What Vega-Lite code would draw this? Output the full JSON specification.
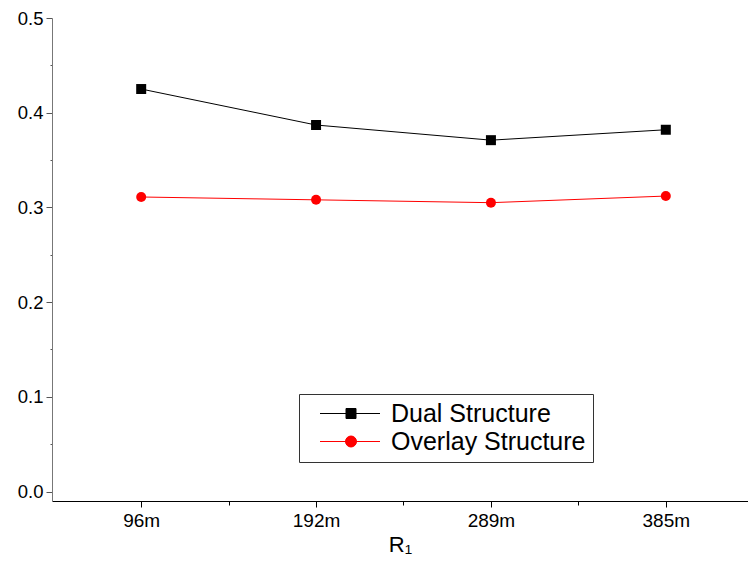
{
  "$schema": "https://vega.github.io/schema/vega-lite/v6.json",
  "width": 696,
  "height": 483,
  "autosize": {"type": "none"},
  "padding": {"left": 52, "top": 18, "right": 0, "bottom": 63},
  "config": {
    "view": {"stroke": null},
    "font": "Liberation Sans",
    "axis": {"grid": false, "labelColor": "black", "titleColor": "black", "labelFont": "Liberation Sans", "titleFont": "Liberation Sans"}
  },
  "data": {
    "values": [
      {"r": 1, "series": "Dual Structure", "value": 0.425},
      {"r": 2, "series": "Dual Structure", "value": 0.387},
      {"r": 3, "series": "Dual Structure", "value": 0.371},
      {"r": 4, "series": "Dual Structure", "value": 0.382},
      {"r": 1, "series": "Overlay Structure", "value": 0.311},
      {"r": 2, "series": "Overlay Structure", "value": 0.308},
      {"r": 3, "series": "Overlay Structure", "value": 0.305},
      {"r": 4, "series": "Overlay Structure", "value": 0.312}
    ]
  },
  "encoding": {
    "x": {
      "field": "r",
      "type": "quantitative",
      "scale": {"domain": [0.49, 4.47], "nice": false, "zero": false},
      "axis": {
        "values": [1, 1.5, 2, 2.5, 3, 3.5, 4],
        "labelExpr": "datum.value == 1 ? '96m' : datum.value == 2 ? '192m' : datum.value == 3 ? '289m' : datum.value == 4 ? '385m' : ''",
        "labelFontSize": 19,
        "labelOverlap": false,
        "labelFlush": false,
        "labelPadding": 4,
        "tickSize": {"condition": {"test": "datum.value % 1 != 0", "value": 4}, "value": 6},
        "domainColor": "black",
        "tickColor": "black",
        "title": "R₁",
        "titleFontSize": 22,
        "titleFontWeight": "normal",
        "titlePadding": 4
      }
    },
    "y": {
      "field": "value",
      "type": "quantitative",
      "scale": {"domain": [-0.01, 0.5], "nice": false, "zero": false},
      "axis": {
        "values": [0, 0.05, 0.1, 0.15, 0.2, 0.25, 0.3, 0.35, 0.4, 0.45, 0.5],
        "labelExpr": "round(datum.value*100) % 10 == 0 ? format(datum.value, '.1f') : ''",
        "labelFontSize": 18.5,
        "labelOverlap": false,
        "labelFlush": false,
        "labelPadding": 3,
        "tickSize": {"condition": {"test": "round(datum.value*100) % 10 != 0", "value": 2}, "value": 6},
        "domainColor": "#777777",
        "tickColor": "#555555",
        "title": null
      }
    },
    "color": {
      "field": "series",
      "type": "nominal",
      "scale": {"domain": ["Dual Structure", "Overlay Structure"], "range": ["black", "red"]},
      "legend": {
        "orient": "none",
        "legendX": 247,
        "legendY": 376,
        "title": null,
        "strokeColor": "#333333",
        "fillColor": "white",
        "padding": 7,
        "labelFontSize": 25,
        "labelFont": "Liberation Sans",
        "labelColor": "black",
        "labelOffset": 60,
        "symbolSize": 100,
        "rowPadding": 2,
        "labelLimit": 400,
        "encode": {
          "symbols": {
            "update": {
              "shape": {"signal": "datum.value === 'Dual Structure' ? 'M0.3,0H12.3M5.5,-1H7.5V1H5.5Z' : 'M0.3,0H12.3M5.4,0A1.1,1.1,0,1,1,7.6,0A1.1,1.1,0,1,1,5.4,0Z'"},
              "stroke": {"signal": "datum.value === 'Dual Structure' ? 'black' : 'red'"},
              "fill": {"signal": "datum.value === 'Dual Structure' ? 'black' : 'red'"},
              "strokeWidth": {"value": 1},
              "opacity": {"value": 1}
            }
          }
        }
      }
    }
  },
  "layer": [
    {
      "mark": {"type": "line", "strokeWidth": 1}
    },
    {
      "transform": [{"filter": "datum.series === 'Dual Structure'"}],
      "mark": {"type": "point", "shape": "square", "filled": true, "opacity": 1, "size": 100}
    },
    {
      "transform": [{"filter": "datum.series === 'Overlay Structure'"}],
      "mark": {"type": "point", "shape": "circle", "filled": true, "opacity": 1, "size": 100}
    }
  ]
}
